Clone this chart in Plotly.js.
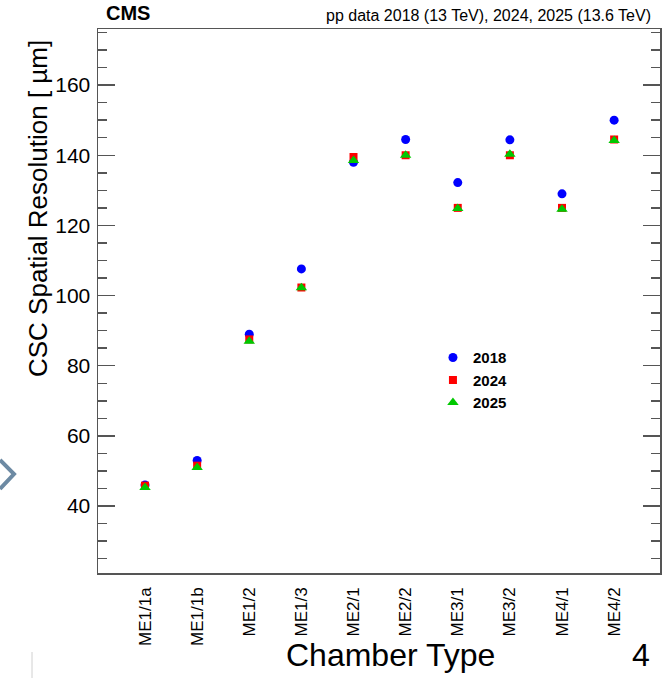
<!DOCTYPE html>
<html>
<head>
<meta charset="utf-8">
<script src="https://cdn.plot.ly/plotly-3.0.1.min.js"></script>
<style>
  html, body { margin: 0; padding: 0; background: #ffffff; }
  #chart { width: 662px; height: 678px; }
</style>
</head>
<body>
<div id="chart"></div>
<script>
// ---- data ----
const chamberTypes = ['ME1/1a','ME1/1b','ME1/2','ME1/3','ME2/1','ME2/2','ME3/1','ME3/2','ME4/1','ME4/2'];
const res2018 = [46.0, 53.0, 89.0, 107.6, 138.0, 144.5, 132.2, 144.4, 129.0, 150.0];
const res2024 = [45.8, 51.5, 87.5, 102.3, 139.5, 140.0, 125.0, 140.0, 125.0, 144.5];
const res2025 = [45.3, 51.0, 87.0, 102.2, 138.5, 140.0, 124.8, 140.3, 124.6, 144.2];
const yTicks = [40, 60, 80, 100, 120, 140, 160];

const FONT = 'Liberation Sans, Arial, Helvetica, sans-serif';
const AXIS_COL = '#555555';

const traces = [
  { x: chamberTypes, y: res2018, name: '2018', type: 'scatter', mode: 'markers',
    marker: { symbol: 'circle', size: 9, color: '#0000ff' } },
  { x: chamberTypes, y: res2024, name: '2024', type: 'scatter', mode: 'markers',
    marker: { symbol: 'square', size: 8, color: '#ff0000' } },
  { x: chamberTypes, y: res2025, name: '2025', type: 'scatter', mode: 'markers',
    marker: { symbol: 'triangle-up', size: 10, color: '#00c800' } }
];

const layout = {
  width: 662, height: 678,
  margin: { l: 98, r: 2, t: 29, b: 105, pad: 0 },
  paper_bgcolor: '#ffffff', plot_bgcolor: '#ffffff',
  font: { family: FONT, color: '#000000' },
  showlegend: true,
  legend: {
    x: 0.596, xanchor: 'left', y: 0.426, yanchor: 'top',
    bgcolor: 'rgba(0,0,0,0)', borderwidth: 0,
    font: { family: FONT, size: 15, color: '#000000', weight: 'bold' },
    itemwidth: 30
  },
  xaxis: {
    type: 'category',
    range: [-0.902, 9.88],
    showgrid: false, zeroline: false,
    showline: true, linecolor: AXIS_COL, linewidth: 1.5, mirror: true,
    ticks: '', tickangle: -90,
    tickfont: { family: FONT, size: 17, color: '#000000' },
    ticklabelstandoff: 6
  },
  yaxis: {
    range: [20.9, 176],
    tickvals: yTicks,
    showgrid: false, zeroline: false,
    showline: true, linecolor: AXIS_COL, linewidth: 1.5, mirror: 'allticks',
    ticks: 'inside', ticklen: 17, tickwidth: 1.5, tickcolor: AXIS_COL,
    minor: { dtick: 5, ticks: 'inside', ticklen: 9, tickwidth: 1.5, tickcolor: AXIS_COL, showgrid: false },
    tickfont: { family: FONT, size: 21, color: '#000000' },
    ticklabelstandoff: 2
  },
  annotations: [
    { text: '<b>CMS</b>', xref: 'paper', yref: 'paper', x: (104 - 98) / 562, y: 1, xanchor: 'left', yanchor: 'bottom',
      yshift: 3, showarrow: false, font: { family: FONT, size: 20, color: '#000000' } },
    { text: 'pp data 2018 (13 TeV), 2024, 2025 (13.6 TeV)', xref: 'paper', yref: 'paper', x: (653 - 98) / 562, y: 1,
      xanchor: 'right', yanchor: 'bottom', yshift: 3, showarrow: false, font: { family: FONT, size: 16, color: '#000000' } },
    { text: 'CSC Spatial Resolution [ \u00b5m]', xref: 'paper', yref: 'paper', x: (38 - 98) / 562, y: (573 - 209) / 544,
      xanchor: 'center', yanchor: 'middle', textangle: -90, showarrow: false,
      font: { family: FONT, size: 26, color: '#000000' } },
    { text: 'Chamber Type', xref: 'paper', yref: 'paper', x: (390 - 98) / 562, y: (573 - 655) / 544,
      xanchor: 'center', yanchor: 'middle', showarrow: false, font: { family: FONT, size: 32, color: '#000000' } },
    { text: '4', xref: 'paper', yref: 'paper', x: (641 - 98) / 562, y: (573 - 655) / 544,
      xanchor: 'center', yanchor: 'middle', showarrow: false, font: { family: FONT, size: 32, color: '#000000' } }
  ],
  shapes: [
    { type: 'path', xref: 'paper', yref: 'paper', layer: 'above',
      path: 'M ' + ((0 - 98) / 562) + ' ' + ((573 - 460) / 544) + ' L ' + ((14 - 98) / 562) + ' ' + ((573 - 474) / 544) +
            ' L ' + ((0 - 98) / 562) + ' ' + ((573 - 489) / 544),
      line: { color: '#6d8aa3', width: 4 } },
    { type: 'line', xref: 'paper', yref: 'paper', x0: (32 - 98) / 562, x1: (32 - 98) / 562,
      y0: (573 - 652) / 544, y1: (573 - 678) / 544, line: { color: '#d0d0d0', width: 1 } }
  ]
};

Plotly.newPlot('chart', traces, layout, { displayModeBar: false, staticPlot: true });
</script>
</body>
</html>
